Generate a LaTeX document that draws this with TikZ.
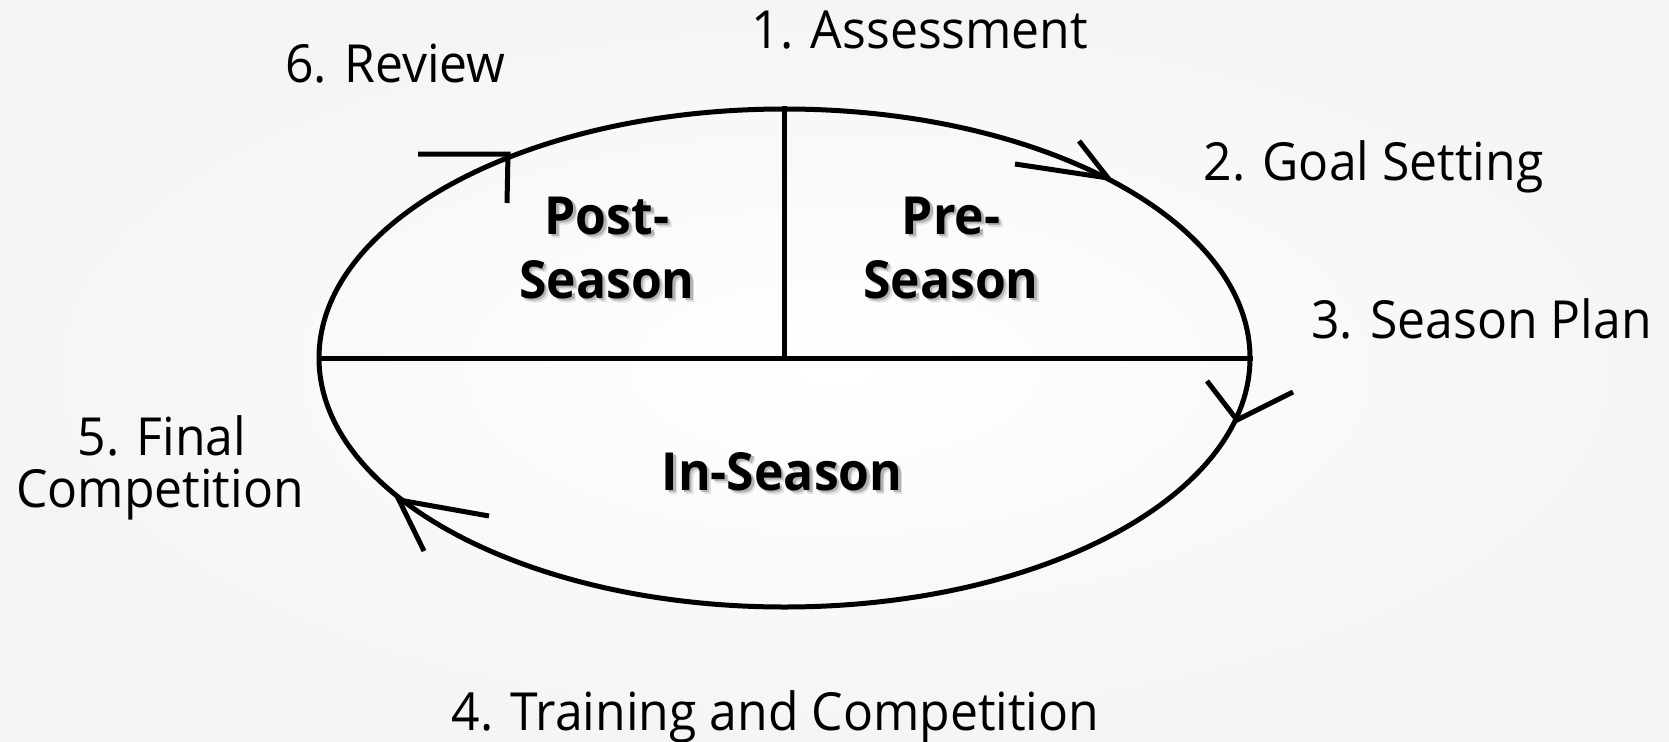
\documentclass[tikz,border=0pt]{standalone}
\usepackage{fontspec}
\setmainfont{Open Sans}[FakeStretch=0.95]
\usetikzlibrary{shapes.geometric}
\tikzset{
  lbl/.style={anchor=base, inner sep=0pt, font=\fontsize{52.5}{60}\selectfont, text=black},
  inlbl/.style={anchor=base, inner sep=0pt, font=\fontsize{52.5}{60}\selectfont\bfseries, text=black},
  ink/.style={line width=5pt, black},
  tip/.style={line width=5pt, black, line join=miter, line cap=butt}
}
\newcommand{\shadowtext}[1]{%
  \rlap{\hspace*{4pt}\raisebox{-4pt}{\textcolor{black!12}{#1}}}%
  \rlap{\hspace*{2.5pt}\raisebox{-2.5pt}{\textcolor{black!30}{#1}}}%
  #1}
\begin{document}
\begin{tikzpicture}[x=1pt,y=-1pt]
\useasboundingbox (0,0) rectangle (1669,741);
\shade[inner color=white, outer color=black!4] (0,0) rectangle (1669,741);

% cycle
\node[ellipse, draw, ink, minimum width=931, minimum height=498, inner sep=0pt] (cycle) at (784.5,358) {};
\draw[ink] (cycle.west) -- (cycle.east);
\draw[ink] (cycle.north) -- (cycle.center);

% arrowheads
\coordinate (a1) at (508,154); \coordinate (a1l) at (418,154); \coordinate (a1r) at (507,203);
\coordinate (a2) at (1108,178); \coordinate (a2l) at (1015,164); \coordinate (a2r) at (1079,141);
\coordinate (a3) at (1237,420); \coordinate (a3l) at (1207,381); \coordinate (a3r) at (1293,392);
\coordinate (a4) at (399,500); \coordinate (a4l) at (489,516); \coordinate (a4r) at (424,551);
\draw[tip] (a1l) -- (a1) -- (a1r);
\draw[tip] (a2l) -- (a2) -- (a2r);
\draw[tip] (a3l) -- (a3) -- (a3r);
\draw[tip] (a4l) -- (a4) -- (a4r);

% inner labels
\node[inlbl] (post1) at (607,234) {\shadowtext{Post-}};
\node[inlbl] (post2) at (607,298) {\shadowtext{Season}};
\node[inlbl] (pre1) at (951,234) {\shadowtext{Pre-}};
\node[inlbl] (pre2) at (951,298) {\shadowtext{Season}};
\node[inlbl] (ins) at (782,490) {\shadowtext{In-Season}};

% outer labels
\node[lbl] (s1) at (920,49) {1. Assessment};
\node[lbl] (s2) at (1373.5,180) {2. Goal Setting};
\node[lbl] (s3) at (1481.5,338) {3. Season Plan};
\node[lbl] (s4) at (775.5,730) {4. Training and Competition};
\node[lbl] (s5a) at (162,455) {5. Final};
\node[lbl] (s5b) at (160,507) {Competition};
\node[lbl] (s6) at (395.5,83) {6. Review};
\end{tikzpicture}
\end{document}
